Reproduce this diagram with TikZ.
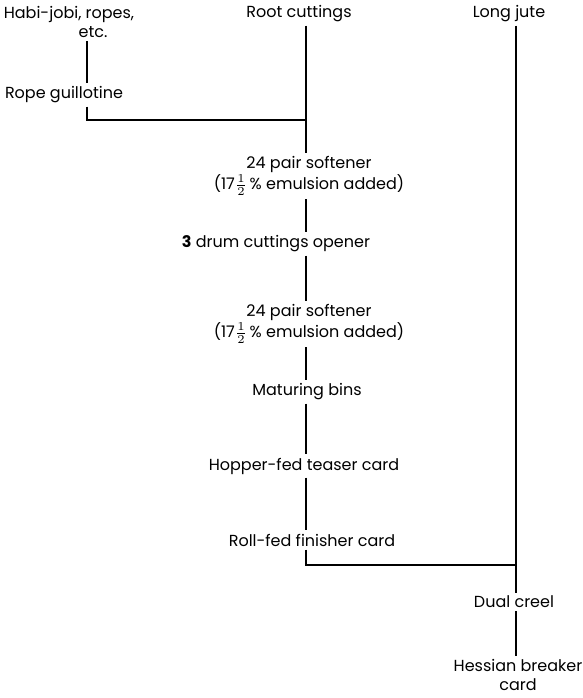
\documentclass[tikz,border=0pt]{standalone}
\usepackage{fontspec}
\setmainfont{Poppins}
\begin{document}
\begin{tikzpicture}[
    x=0.5pt, y=-0.5pt,
    step label/.style={
        font=\fontsize{8}{9.5}\selectfont,
        align=center,
        inner sep=1.5pt
    },
    flow/.style={
        draw=black,
        line width=0.9pt
    }
]
\useasboundingbox (0,0) rectangle (583,698);
\def\mainx{306}
\def\jutex{516}

% Raw materials
\node[step label] (habi) at (69,22) {Habi-jobi, ropes,\\\hspace*{24pt}etc.};
\node[step label] (root) at (299,14) {Root cuttings};
\node[step label] (jute) at (509,14) {Long jute};
\node[step label] (guill) at (64,95) {Rope guillotine};

% Cuttings line
\node[step label] (soft1) at (309,176) {24 pair softener\\(17$\frac{1}{2}$\,\% emulsion added)};
\node[step label] (opener) at (276,244) {\textbf{3} drum cuttings opener};
\node[step label] (soft2) at (309,324) {24 pair softener\\(17$\frac{1}{2}$\,\% emulsion added)};
\node[step label] (bins) at (307,392) {Maturing bins};
\node[step label] (hopper) at (304,466) {Hopper-fed teaser card};
\node[step label] (roll) at (312,540) {Roll-fed finisher card};

% Jute line
\node[step label] (creel) at (514,602) {Dual creel};
\node[step label] (hessian) at (518,675) {Hessian breaker\\card};

% Junctions
\coordinate (jA) at (87,120);
\coordinate (jB) at (\mainx,120);
\coordinate (jC) at (\mainx,565);
\coordinate (jD) at (\jutex,565);

% Connectors
\draw[flow] (habi.south -| jA) -- (guill.north -| jA);
\draw[flow] (guill.south -| jA) -- (jA) -- (jB);
\draw[flow] (root.south -| jB) -- (soft1.north -| jB);
\draw[flow] (soft1.south -| jB) -- (opener.north -| jB);
\draw[flow] (opener.south -| jB) -- (soft2.north -| jB);
\draw[flow] (soft2.south -| jB) -- (bins.north -| jB);
\draw[flow] (bins.south -| jB) -- (hopper.north -| jB);
\draw[flow] (hopper.south -| jB) -- (roll.north -| jB);
\draw[flow] (roll.south -| jC) -- (jC) -- (jD);
\draw[flow] (jute.south -| jD) -- (creel.north -| jD);
\draw[flow, line width=1.3pt] (creel.south -| jD) -- (hessian.north -| jD);
\end{tikzpicture}
\end{document}
